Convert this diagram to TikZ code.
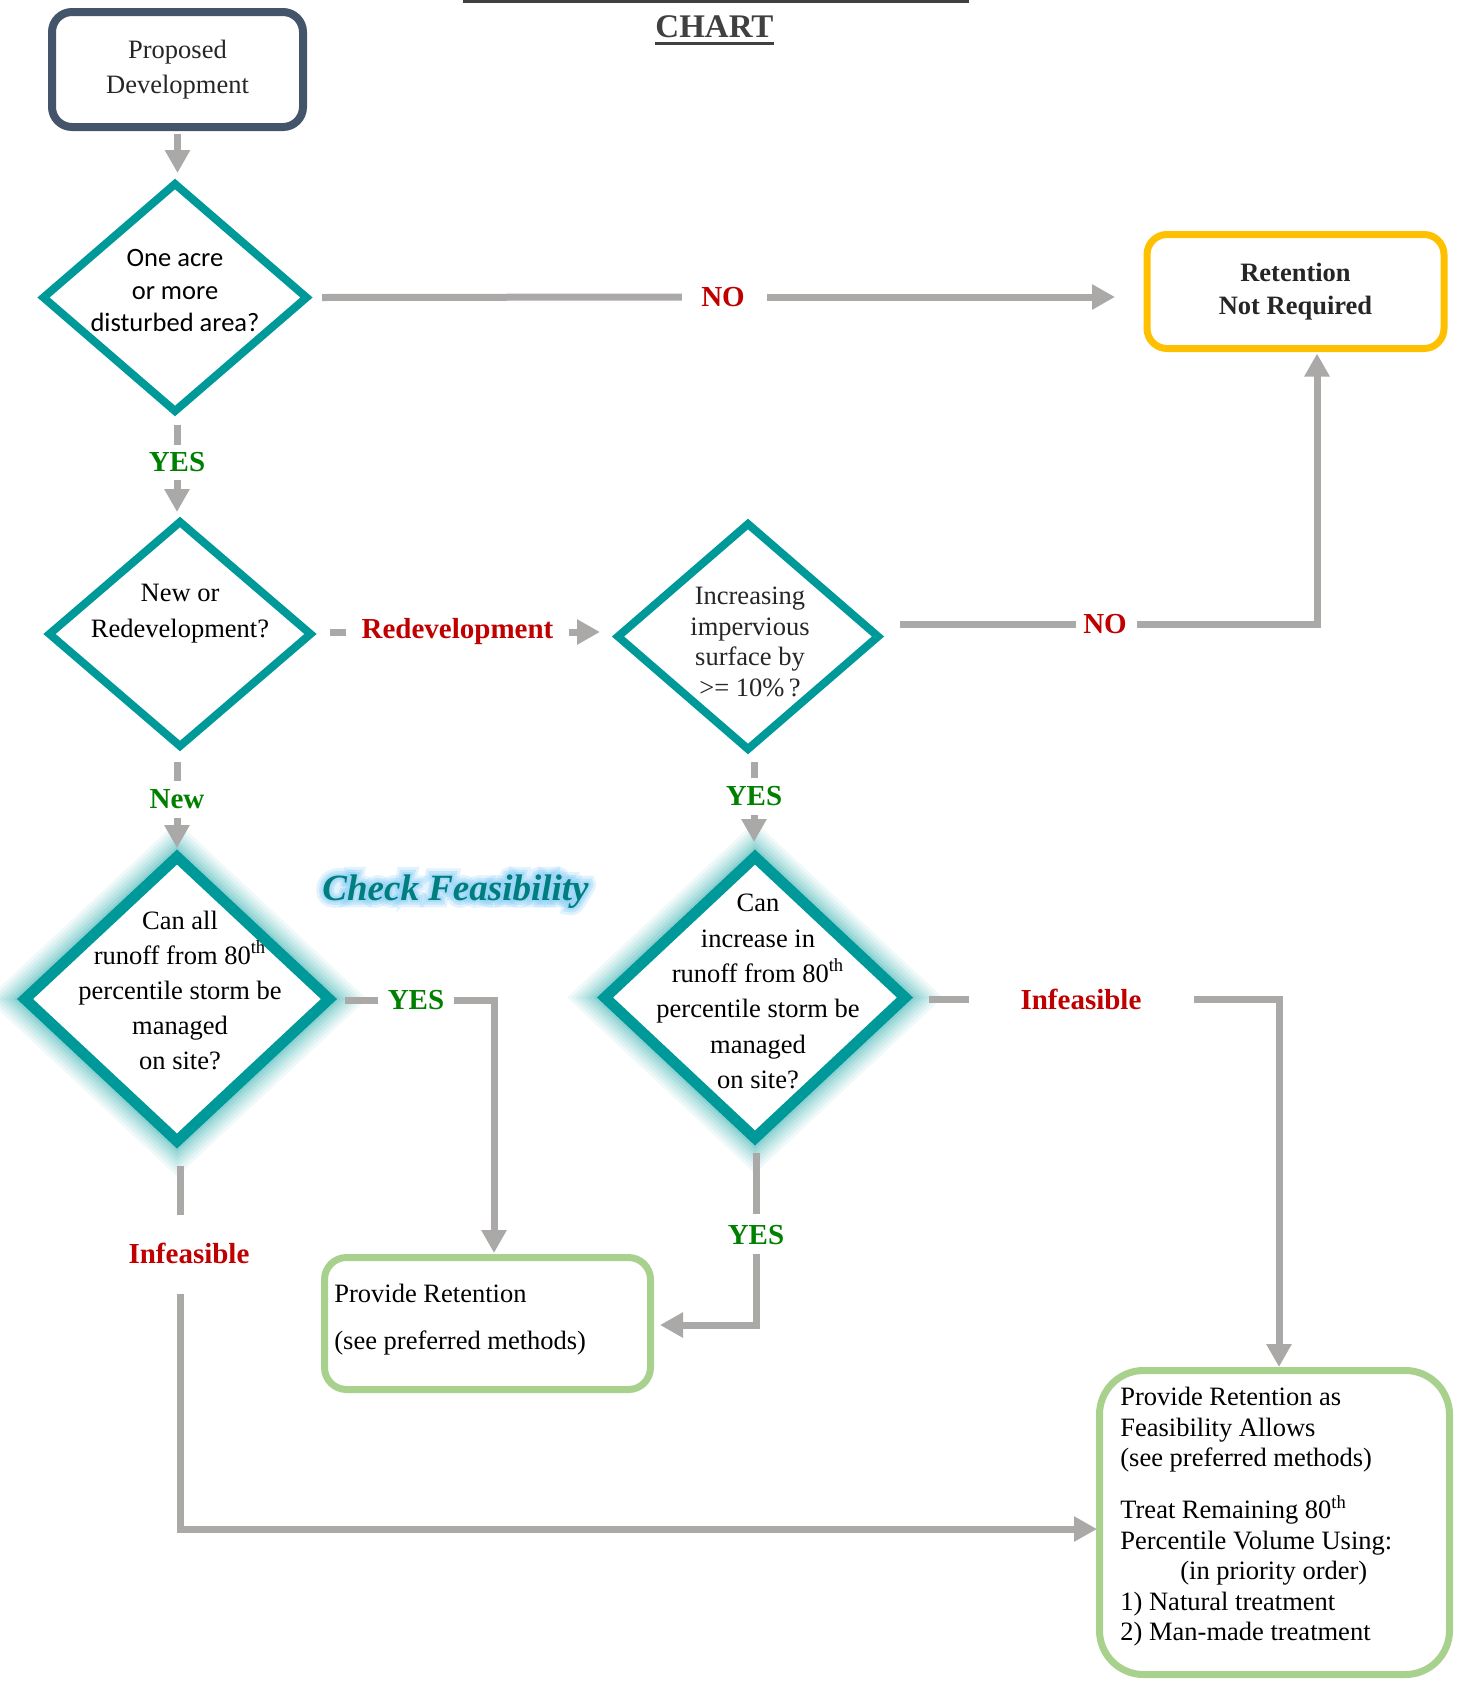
\documentclass[tikz,border=0pt]{standalone}
\usepackage{fontspec}
\setmainfont{Liberation Serif}
\newfontfamily\calibfont{Carlito}
\usetikzlibrary{shapes.geometric,arrows.meta,calc}
\definecolor{tealA}{HTML}{009999}
\definecolor{connc}{HTML}{ABA8A8}
\definecolor{slatec}{HTML}{44546A}
\definecolor{goldc}{HTML}{FFC000}
\definecolor{lgreen}{HTML}{A9D18E}
\definecolor{redc}{HTML}{C00000}
\definecolor{greenc}{HTML}{008000}
\definecolor{tealtxt}{HTML}{007E7E}
\definecolor{glowblue}{HTML}{8CCFF6}
\definecolor{txtgray}{HTML}{262626}
\definecolor{titlegray}{HTML}{404040}
\begin{document}
\begin{tikzpicture}[x=0.5pt,y=-0.5pt,
  conn/.style={draw=connc, line width=3.5pt, -{Triangle[length=11.5pt,width=12pt]}},
  seg/.style={draw=connc, line width=3.5pt},
  dia/.style={diamond, draw=tealA, line width=4pt, fill=white, inner sep=0pt, outer sep=0pt},
  gdia/.style={diamond, draw=tealA, line width=5.5pt, fill=white, inner sep=0pt, outer sep=0pt,
    preaction={draw=tealA, draw opacity=0.06, line width=26pt},
    preaction={draw=tealA, draw opacity=0.06, line width=23pt},
    preaction={draw=tealA, draw opacity=0.07, line width=20pt},
    preaction={draw=tealA, draw opacity=0.08, line width=17pt},
    preaction={draw=tealA, draw opacity=0.09, line width=14pt},
    preaction={draw=tealA, draw opacity=0.10, line width=11pt},
    preaction={draw=tealA, draw opacity=0.12, line width=8pt}},
  rbox/.style={rectangle, line width=3.5pt, fill=white, inner sep=0pt, outer sep=0pt},
  txt/.style={inner sep=0pt, align=center},
  lab/.style={inner sep=0pt, font=\fontsize{14.5}{17}\selectfont\bfseries},
  nolab/.style={lab, text=redc},
  yeslab/.style={lab, text=greenc},
  cf/.style={anchor=base, inner sep=0pt, font=\fontsize{18.5}{20}\selectfont\bfseries\itshape},
]
\useasboundingbox (0,0) rectangle (1458,1682);

% title remnants
\fill[titlegray] (463,0) rectangle (969,2.5);
\node[anchor=base, inner sep=0pt, text=titlegray, font=\fontsize{16.5}{18}\selectfont\bfseries] (chart) at (714.5,37) {CHART};
\fill[titlegray] ($(chart.base west)+(0,4.5)$) rectangle ($(chart.base east)+(0,7.5)$);

% boxes
\node[rbox, draw=slatec, line width=4pt, rounded corners=10pt, minimum width=125.5pt, minimum height=57.5pt,
  align=center, text=txtgray, font=\fontsize{13.25}{17.5}\selectfont] (b0) at (177.5,69.5) {Proposed\\Development};
\node[rbox, draw=goldc, rounded corners=10pt, minimum width=148.5pt, minimum height=57pt,
  align=center, text=txtgray, font=\fontsize{13.25}{16.5}\selectfont\bfseries] (b1) at (1295.5,291.5) {Retention\\Not Required};
\node[rbox, draw=lgreen, rounded corners=11pt, minimum width=163pt, minimum height=66pt] (b2) at (487.5,1323.5) {};
\node[rbox, draw=lgreen, rounded corners=22pt, minimum width=175pt, minimum height=152pt] (b3) at (1274.5,1522.5) {};

% diamonds
\node[dia, minimum width=131.5pt, minimum height=113.5pt] (d1) at (175,297.5) {};
\node[dia, minimum width=130.5pt, minimum height=112pt] (d2) at (180,634) {};
\node[dia, minimum width=130pt, minimum height=112.5pt] (d3) at (748,636.5) {};
\node[gdia, minimum width=152pt, minimum height=142pt] (d4) at (177,999) {};
\node[gdia, minimum width=150pt, minimum height=140.5pt] (d5) at (755,997.5) {};

% texts
\node[txt, font=\calibfont\fontsize{13.25}{16.25}\selectfont] (t1) at (175,290.5) {One acre\\or more\\disturbed area?};
\node[txt, font=\fontsize{13.25}{18}\selectfont] (t2) at (180,614) {New or\\Redevelopment?};
\node[txt, text=txtgray, font=\fontsize{13.25}{15.35}\selectfont] (t3) at (750,642) {Increasing\\impervious\\surface by\\{>}= 10\%\,?};
\node[txt, font=\fontsize{13.25}{17.5}\selectfont] (t4) at (180,990) {Can all\\runoff from 80\textsuperscript{th}\\percentile storm be\\managed\\on site?};
\node[txt, font=\fontsize{13.25}{17.7}\selectfont] (t5) at (758,991.5) {Can\\increase in\\runoff from 80\textsuperscript{th}\\percentile storm be\\managed\\on site?};
\node[txt, align=left, anchor=west, font=\fontsize{13.25}{23.5}\selectfont] (t6) at (334,1319.5) {Provide Retention\\(see preferred methods)};
\node[txt, align=left, anchor=west, font=\fontsize{13.25}{15.25}\selectfont] (t7) at (1120,1517) {Provide Retention as\\Feasibility Allows\\(see preferred methods)\\[10.75pt]Treat Remaining 80\textsuperscript{th}\\Percentile Volume Using:\\\hspace*{30pt}(in priority order)\\1) Natural treatment\\2) Man-made treatment};

% Check Feasibility with glow
\node[cf, text=glowblue, text opacity=0.25, font=\fontsize{18.5}{20}\selectfont\bfseries\itshape\addfontfeatures{FakeBold=40}] (cfglowA) at (455.5,900) {Check Feasibility};
\node[cf, text=glowblue, text opacity=0.35, font=\fontsize{18.5}{20}\selectfont\bfseries\itshape\addfontfeatures{FakeBold=25}] (cfglowB) at (455.5,900) {Check Feasibility};
\node[cf, text=glowblue, text opacity=0.45, font=\fontsize{18.5}{20}\selectfont\bfseries\itshape\addfontfeatures{FakeBold=12}] (cfglowC) at (455.5,900) {Check Feasibility};
\node[cf, text=tealtxt] (cfeas) at (455.5,900) {Check Feasibility};

% labels
\node[nolab] (no1) at (723,297) {NO};
\node[yeslab] (yes1) at (177,462) {YES};
\node[nolab] (redev) at (457.5,632) {Redevelopment};
\node[nolab] (no2) at (1105,624) {NO};
\node[yeslab] (new) at (177,799) {New};
\node[yeslab] (yes2) at (754,796) {YES};
\node[yeslab] (yes3) at (416,1000) {YES};
\node[nolab] (inf1) at (1081,999) {Infeasible};
\node[yeslab] (yes4) at (756,1235) {YES};
\node[nolab] (inf2) at (189,1253) {Infeasible};

% connectors
\draw[conn] ($(b0.south)+(0,7)$) -- ($(b0.south |- d1.north)+(0,-11)$);

\draw[seg] ($(d1.east)+(15.5,0)$) -- ($(no1.west)+(-19,0)$);
\draw[conn] ($(no1.east)+(22,0)$) -- ($(b1.west |- no1.east)+(-32,0)$);

\draw[seg] ($(yes1.north |- d1.south)+(0,14)$) -- ($(yes1.north)+(0,-7)$);
\draw[conn] ($(yes1.south)+(0,8)$) -- ($(yes1.south |- d2.north)+(0,-10)$);

\draw[seg] ($(d2.east |- redev.west)+(19,0)$) -- ($(redev.west)+(-15,0)$);
\draw[conn] ($(redev.east)+(15,0)$) -- ($(d3.west |- redev.east)+(-18,0)$);

\draw[seg] ($(d3.east |- no2.west)+(22,0)$) -- ($(no2.west)+(-7,0)$);
\draw[conn] ($(no2.east)+(10,0)$) -| ($(b1.south)+(21.5,5)$);

\draw[seg] ($(new.north |- d2.south)+(0,16)$) -- ($(new.north)+(0,-8)$);
\draw[conn] ($(new.south)+(0,8.5)$) -- ($(new.south |- d4.north)+(0,-9)$);

\draw[seg] ($(yes2.north |- d3.south)+(0,13)$) -- ($(yes2.north)+(0,-8)$);
\draw[conn] ($(yes2.south)+(0,9)$) -- ($(yes2.south |- d5.north)+(0,-15)$);

\draw[seg] ($(d4.east |- yes3.west)+(16,0)$) -- ($(yes3.west)+(-9,0)$);
\draw[conn] ($(yes3.east)+(9,0)$) -| ($(b2.north)+(6.5,-4.5)$);

\draw[seg] ($(d5.east |- inf1.west)+(24,0)$) -- ($(inf1.west)+(-51,0)$);
\draw[conn] ($(inf1.east)+(52,0)$) -| ($(b3.north)+(4.5,-3.5)$);

\draw[seg] ($(yes4.north |- d5.south)+(0,15)$) -- ($(yes4.north)+(0,-10.5)$);
\draw[conn] ($(yes4.south)+(0,8.5)$) |- ($(b2.east)+(9.5,1.5)$);

\draw[seg] ($(d4.south)+(3,25)$) -- ($(d4.south |- inf2.north)+(3,-27)$);
\draw[conn] ($(d4.south |- inf2.south)+(3,30)$) |- ($(b3.west)+(-2.5,6.5)$);
\end{tikzpicture}
\end{document}
